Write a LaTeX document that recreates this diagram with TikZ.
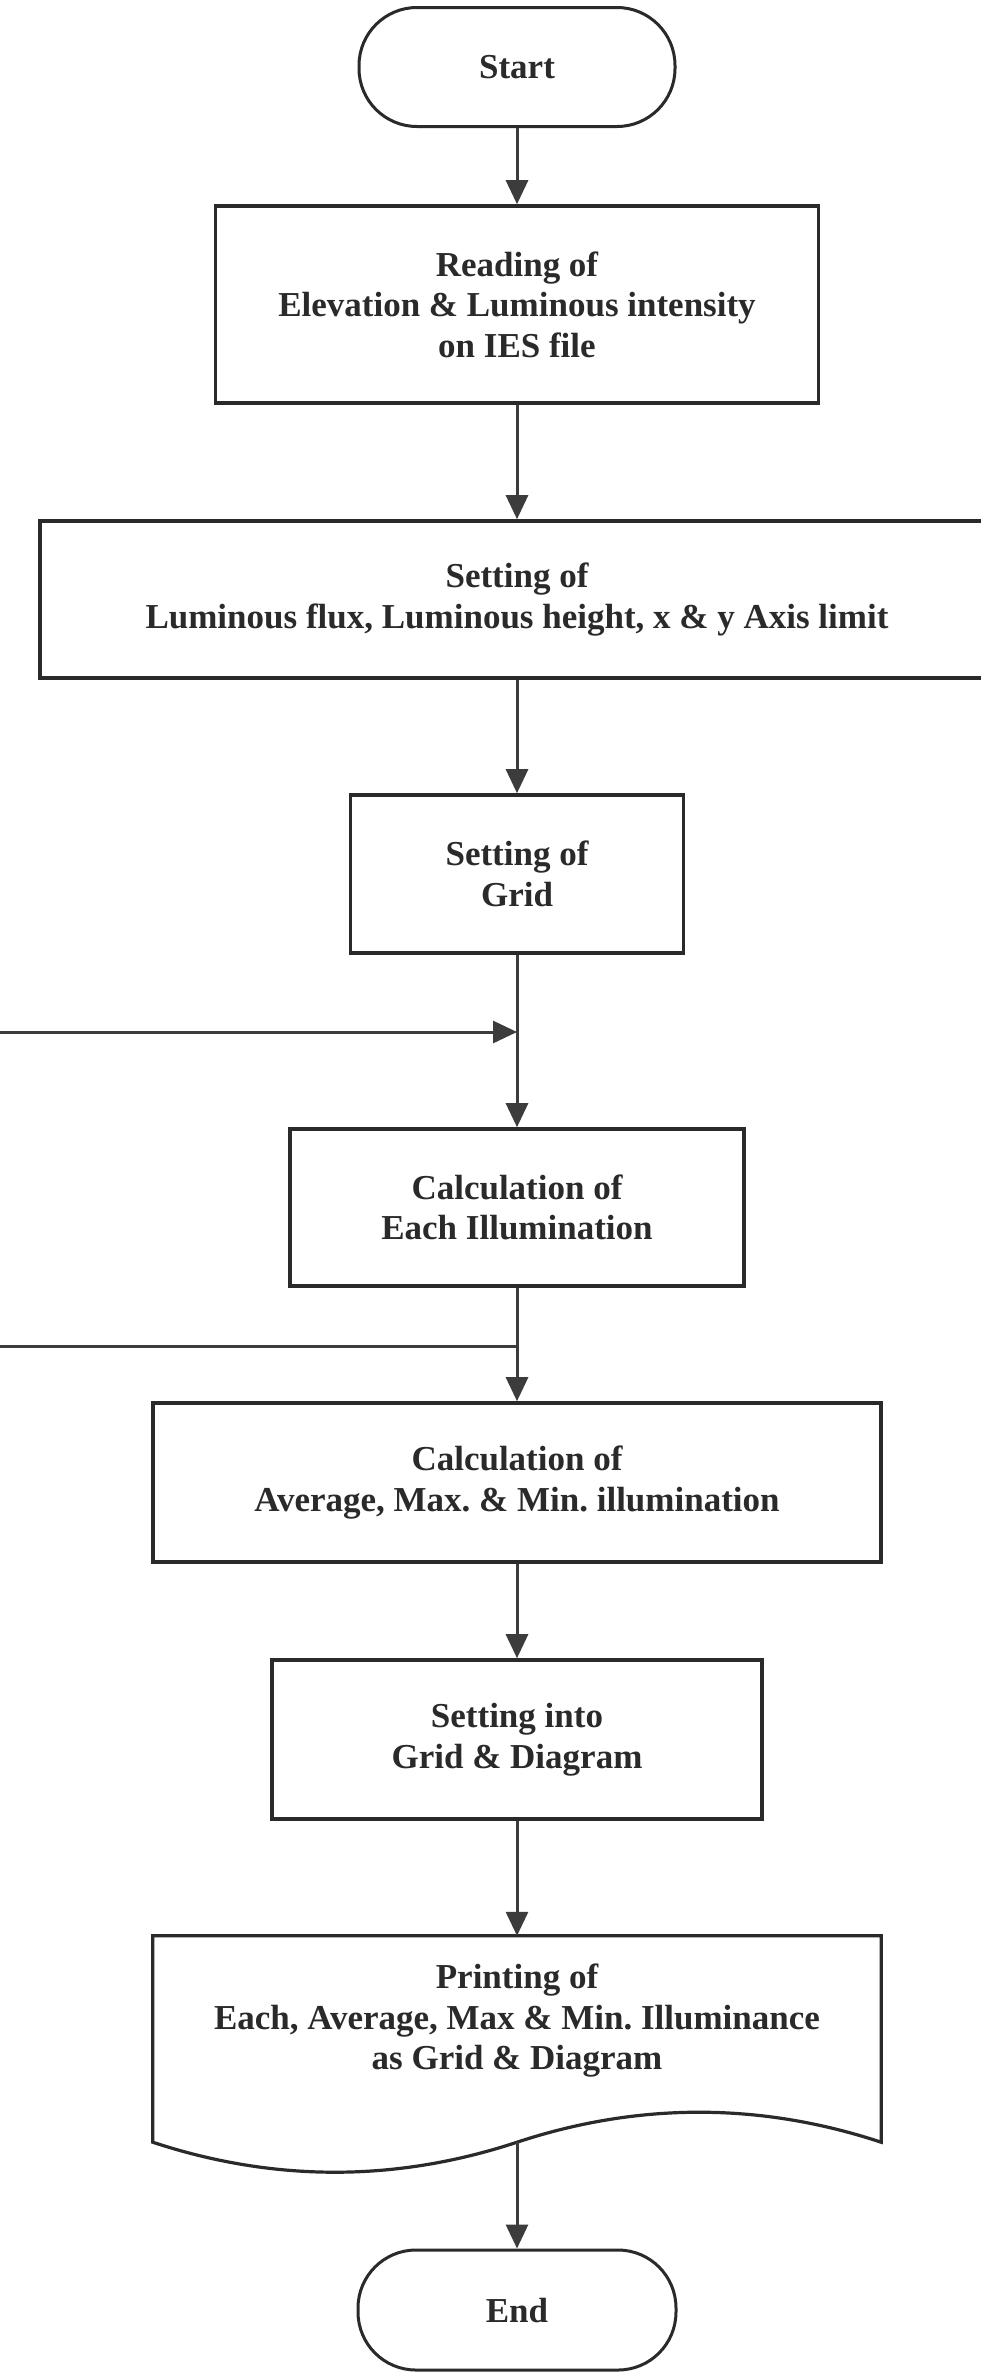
\documentclass[tikz,border=0pt]{standalone}
\usepackage{fontspec}
\setmainfont{Liberation Serif}
\usetikzlibrary{arrows.meta,calc}
\definecolor{ink}{HTML}{2A2A2A}
\definecolor{linec}{HTML}{3C3C3C}
\frenchspacing
\begin{document}
\begin{tikzpicture}[x=1pt,y=-1pt,
  every node/.style={font=\fontsize{35}{40.5}\selectfont\bfseries, text=ink, align=center, inner sep=0pt},
  procbox/.style={draw=ink, line width=3.6pt, rectangle, fill=white},
  termbox/.style={draw=ink, line width=3pt, rectangle, rounded corners=58pt, fill=white},
  flow/.style={draw=linec, line width=3pt, -{Triangle[length=24pt,width=22pt]}},
  plainline/.style={draw=linec, line width=3pt}
]
\useasboundingbox (0,0) rectangle (980,2372);
\fill[white] (0,0) rectangle (980,2372);

\node[termbox, minimum width=316pt, minimum height=119pt] (start) at (517,67) {Start};
\node[procbox, minimum width=603pt, minimum height=197pt] (read) at (517,304.5)
  {Reading of\\Elevation \& Luminous intensity\\on IES file};
\node[procbox, minimum width=954pt, minimum height=157pt] (set) at (517,599.5)
  {Setting of\\Luminous flux, Luminous height, x \& y Axis limit};
\node[procbox, minimum width=333pt, minimum height=158pt] (grid) at (517,874)
  {Setting of\\Grid};
\node[procbox, minimum width=454pt, minimum height=157pt] (calc) at (517,1207.5)
  {Calculation of\\Each Illumination};
\node[procbox, minimum width=728pt, minimum height=159pt] (avg) at (517,1482.5)
  {Calculation of\\Average, Max. \& Min. illumination};
\node[procbox, minimum width=490pt, minimum height=159pt] (into) at (517,1739.5)
  {Setting into\\Grid \& Diagram};
\node[rectangle, minimum width=728pt, minimum height=206pt] (print) at (517,2039) {};
\draw[ink, line width=3.2pt, fill=white, line join=miter]
  (print.south west) -- (print.north west) -- (print.north east) -- (print.south east)
  .. controls ($(print.south east)+(-121,-40)$) and ($(print.south)+(121,-40)$) .. (print.south)
  .. controls ($(print.south)+(-121,40)$) and ($(print.south west)+(121,40)$) .. (print.south west) -- cycle;
\node (printtext) at (517,2021)
  {Printing of\\Each, Average, Max \& Min. Illuminance\\as Grid \& Diagram};
\node[termbox, minimum width=318pt, minimum height=120pt] (end) at (517,2310) {End};

\coordinate (loopA) at (0,1032);
\coordinate (loopB) at (0,1346);

\draw[flow] (start) -- (read);
\draw[flow] (read) -- (set);
\draw[flow] (set) -- (grid);
\draw[flow] (grid) -- (calc);
\draw[flow] (calc) -- (avg);
\draw[flow] (avg) -- (into);
\draw[flow] (into) -- (print.north);
\draw[flow] (print.south) -- (end);
\draw[flow] (loopA) -- (loopA -| grid.south);
\draw[plainline] (loopB) -- (loopB -| calc.south);
\end{tikzpicture}
\end{document}
